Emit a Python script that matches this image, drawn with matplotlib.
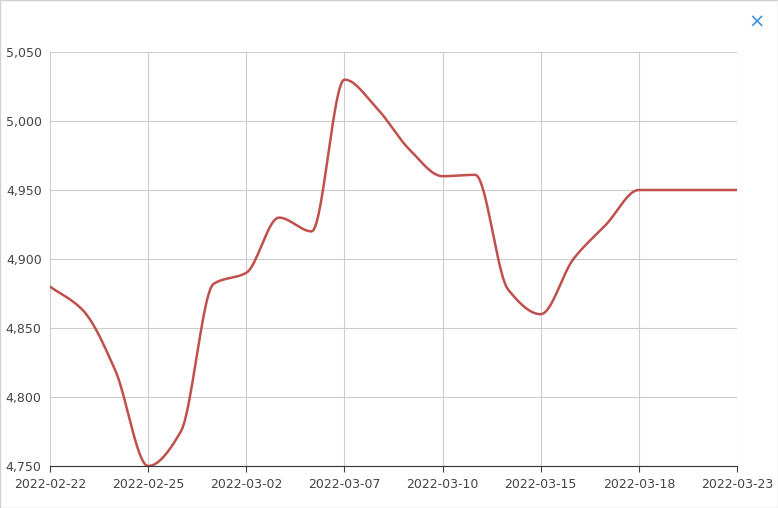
import numpy as np
import matplotlib.pyplot as plt

dates = ["2022-02-22", "2022-02-23", "2022-02-24", "2022-02-25", "2022-02-28",
         "2022-03-01", "2022-03-02", "2022-03-03", "2022-03-04", "2022-03-07",
         "2022-03-08", "2022-03-09", "2022-03-10", "2022-03-11", "2022-03-14",
         "2022-03-15", "2022-03-16", "2022-03-17", "2022-03-18", "2022-03-21",
         "2022-03-22", "2022-03-23"]
prices = [4880, 4863, 4819, 4750, 4775, 4882, 4890, 4930, 4920, 5030,
          5009, 4979, 4960, 4961, 4878, 4860, 4900, 4925, 4950, 4950,
          4950, 4950]
y_ticks = [4750, 4800, 4850, 4900, 4950, 5000, 5050]


def smooth(x, y, n=20):
    # monotone cubic (Fritsch-Carlson), no overshoot at peaks
    x = np.asarray(x, float)
    y = np.asarray(y, float)
    h = np.diff(x)
    d = np.diff(y) / h
    m = np.zeros_like(y)
    m[0], m[-1] = d[0], d[-1]
    for i in range(1, len(y) - 1):
        if d[i - 1] * d[i] > 0:
            m[i] = 2 / (1 / d[i - 1] + 1 / d[i])
    xs, ys = [], []
    t = np.linspace(0, 1, n, endpoint=False)
    for i in range(len(x) - 1):
        h00 = 2 * t ** 3 - 3 * t ** 2 + 1
        h10 = t ** 3 - 2 * t ** 2 + t
        h01 = -2 * t ** 3 + 3 * t ** 2
        h11 = t ** 3 - t ** 2
        xs.extend(x[i] + t * h[i])
        ys.extend(h00 * y[i] + h10 * h[i] * m[i] + h01 * y[i + 1] + h11 * h[i] * m[i + 1])
    xs.append(x[-1])
    ys.append(y[-1])
    return np.array(xs), np.array(ys)


fig = plt.figure(figsize=(7.78, 5.08), dpi=100)
ax = fig.add_axes([50 / 778, 1 - 466 / 508, 687 / 778, 414 / 508])

idx = np.arange(len(dates))
sx, sy = smooth(idx, prices)
ax.plot(sx, sy, color="#c0504d", lw=1.8)

ax.set_xlim(0, len(dates) - 1)
ax.set_ylim(4750, 5050)
tick_idx = idx[::3]
ax.set_xticks(tick_idx)
ax.set_xticklabels([dates[i] for i in tick_idx])
ax.set_yticks(y_ticks)
ax.set_yticklabels([f"{v:,}" for v in y_ticks])
ax.grid(True, color="#cccccc", lw=0.8)
for s in ["top", "right", "left"]:
    ax.spines[s].set_visible(False)
ax.spines["bottom"].set_color("#333333")
ax.tick_params(axis="y", length=0, labelsize=9, colors="#444444", pad=6)
ax.tick_params(axis="x", length=4, labelsize=9, colors="#444444", pad=5)

fig.text(757 / 778, 1 - 22 / 508, "×", color="#3a8ee6", fontsize=14,
         ha="center", va="center")
fig.patches.append(plt.Rectangle((0, 0), 1, 1, transform=fig.transFigure,
                                 fill=False, ec="#d0d0d0", lw=1))
fig.savefig("out.png", dpi=100)
